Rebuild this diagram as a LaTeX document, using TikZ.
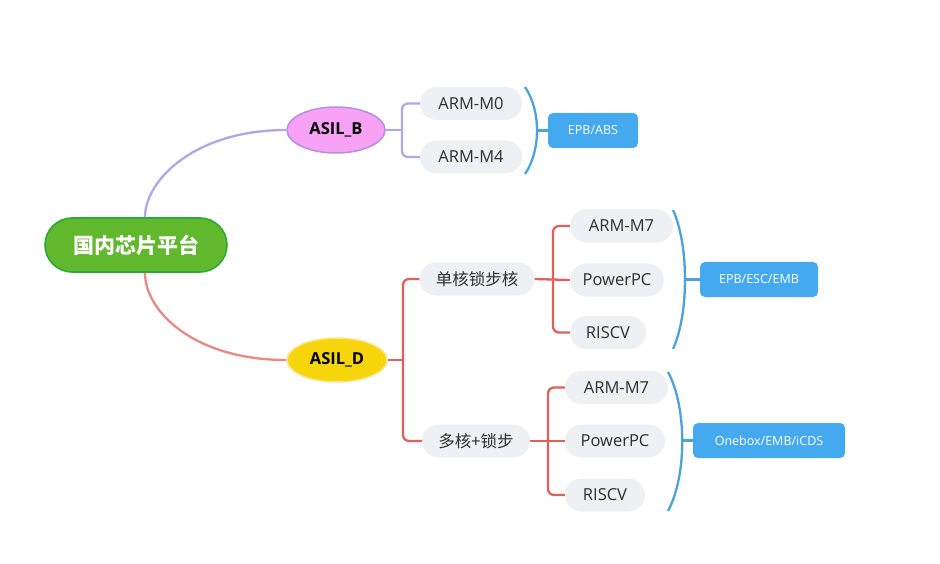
\documentclass[tikz,border=0pt]{standalone}
\usepackage{fontspec}
\setmainfont{Noto Sans CJK SC}
\newfontfamily\latinfont{Open Sans}
\usetikzlibrary{shapes.geometric}
\definecolor{rootfill}{HTML}{62B82C}
\definecolor{rootdraw}{HTML}{2EA836}
\definecolor{bfill}{HTML}{F7A2F5}
\definecolor{bdraw}{HTML}{B58FE0}
\definecolor{dfill}{HTML}{F7D50C}
\definecolor{ddraw}{HTML}{FCE58A}
\definecolor{purpline}{HTML}{B3A6E8}
\definecolor{salmonline}{HTML}{E98A80}
\definecolor{redline}{HTML}{E0605A}
\definecolor{blueline}{HTML}{4AA3DC}
\definecolor{boxfill}{HTML}{45A9F0}
\definecolor{pillfill}{HTML}{EEF0F3}
\definecolor{pilltext}{HTML}{2E2E2E}
\tikzset{
  rootnode/.style={rectangle, rounded corners=27pt, fill=rootfill, draw=rootdraw, line width=1.6pt,
    minimum width=182pt, minimum height=54pt, text=white, font=\fontsize{21}{23}\selectfont\bfseries},
  asil/.style={ellipse, line width=1.5pt, minimum height=45pt, inner sep=0pt,
    font=\latinfont\fontsize{16.5}{18}\selectfont\bfseries, text=black},
  pill/.style={rectangle, rounded corners=16.5pt, fill=pillfill, minimum height=33pt, inner sep=0pt,
    text=pilltext, font=\latinfont\fontsize{16.5}{18}\selectfont},
  cpill/.style={pill, font=\fontsize{16.5}{18}\selectfont},
  bluebox/.style={rectangle, rounded corners=5pt, fill=boxfill, minimum height=35pt, inner sep=0pt,
    text=white, font=\latinfont\fontsize{12.5}{14}\selectfont},
  purp/.style={draw=purpline, line width=2.3pt},
  salm/.style={draw=salmonline, line width=2.3pt},
  redl/.style={draw=redline, line width=2.3pt, rounded corners=6pt},
  purpb/.style={draw=purpline, line width=2.3pt, rounded corners=6pt},
  bluel/.style={draw=blueline, line width=2.3pt},
}
\begin{document}
\begin{tikzpicture}[x=1pt,y=-1pt]
\path[use as bounding box, fill=white] (0,0) rectangle (940,564);

% nodes
\node[rootnode] (root) at (136,245) {国内芯片平台};
\node[asil, fill=bfill, draw=bdraw, minimum width=98pt, minimum height=46pt] (asilb) at (336,130) {ASIL\_B};
\node[asil, fill=dfill, draw=ddraw, minimum width=100pt, minimum height=44pt] (asild) at (337,360) {ASIL\_D};

\node[pill, minimum width=102pt] (m0) at (471,103.5) {ARM-M0};
\node[pill, minimum width=102pt] (m4) at (471,157) {ARM-M4};
\node[bluebox, minimum width=90pt] (epbabs) at (593,130.5) {EPB/ABS};

\node[cpill, minimum width=115pt] (single) at (477,279) {单核锁步核};
\node[cpill, minimum width=108pt] (multi) at (476,441) {多核+锁步};

\node[pill, minimum width=103pt] (sa) at (621.5,226) {ARM-M7};
\node[pill, minimum width=94pt] (sp) at (617,280) {PowerPC};
\node[pill, minimum width=76pt] (sr) at (608,332.5) {RISCV};
\node[bluebox, minimum width=118pt] (epbesc) at (759,279.5) {EPB/ESC/EMB};

\node[pill, minimum width=103pt] (ma) at (616.5,387.5) {ARM-M7};
\node[pill, minimum width=100pt] (mp) at (615,441) {PowerPC};
\node[pill, minimum width=80pt] (mr) at (605,495) {RISCV};
\node[bluebox, minimum width=152pt] (onebox) at (769,440.5) {Onebox/EMB/iCDS};

% root connectors
\draw[purp] (root.north) ++(9,0) coordinate (rt) .. controls (145,180) and (195,130) .. (asilb.west);
\draw[salm] (root.south) ++(9,0) coordinate (rb) .. controls (145,312) and (195,360) .. (asild.west);

% ASIL_B bracket
\coordinate (jb) at (402,130);
\draw[purp] (asilb.east) -- (jb);
\draw[purpb] (m0.west) -| (jb);
\draw[purpb] (m4.west) -| (jb);

% ASIL_D bracket
\coordinate (jd) at (403,360);
\draw[redl] (asild.east) -- (jd);
\draw[redl] (single.west) -| (jd);
\draw[redl] (multi.west) -| (jd);

% single-core group
\coordinate (js) at (553,279.5);
\draw[redl] (single.east) -- (sp.west);
\draw[redl] (sa.west) -| (js);
\draw[redl] (sr.west) -| (js);

% multi-core group
\coordinate (jm) at (548,441);
\draw[redl] (multi.east) -- (mp.west);
\draw[redl] (ma.west) -| (jm);
\draw[redl] (mr.west) -| (jm);

% braces
\coordinate (b1t) at (525,87);
\coordinate (b1b) at (525,174);
\coordinate (b1m) at (537,130.5);
\draw[bluel] (b1t) .. controls (541,110) and (541,151) .. (b1b);
\draw[bluel] (b1m) -- (epbabs.west);

\coordinate (b2t) at (673,210);
\coordinate (b2b) at (673,349);
\coordinate (b2m) at (685,279.5);
\draw[bluel] (b2t) .. controls (689,245) and (689,314) .. (b2b);
\draw[bluel] (b2m) -- (epbesc.west);

\coordinate (b3t) at (668,372);
\coordinate (b3b) at (668,511);
\coordinate (b3m) at (682,440.5);
\draw[bluel] (b3t) .. controls (687,407) and (687,476) .. (b3b);
\draw[bluel] (b3m) -- (onebox.west);
\end{tikzpicture}
\end{document}
